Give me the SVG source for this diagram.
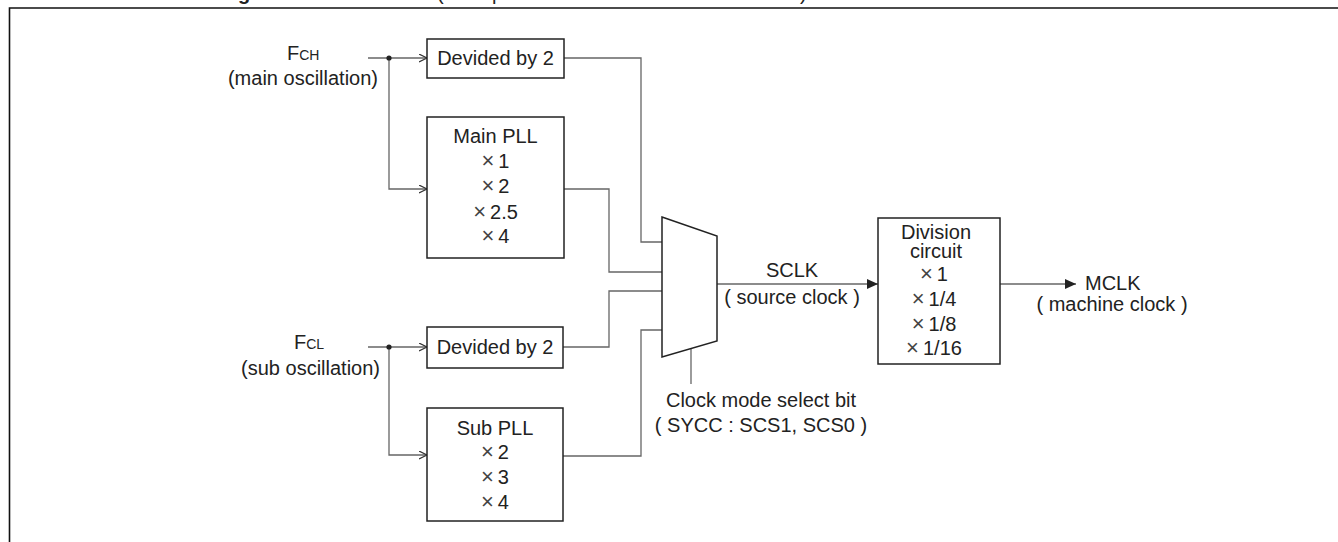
<svg xmlns="http://www.w3.org/2000/svg" width="1338" height="542" viewBox="0 0 1338 542">
<style>
text{font-family:"Liberation Sans",Arial,sans-serif;font-size:20px;fill:#222}
.m{text-anchor:middle}
.e{text-anchor:end}
.box{fill:#fff;stroke:#222;stroke-width:1.5}
.wire{fill:none;stroke:#666;stroke-width:1.3}
.sub{font-size:14px}
.x{font-size:22px;fill:#444}
</style>
<defs>
<marker id="open" markerUnits="userSpaceOnUse" markerWidth="10" markerHeight="10" refX="8" refY="4" orient="auto" viewBox="0 0 10 10">
<path d="M0,0 L8,4 L0,8" fill="none" stroke="#333" stroke-width="1.2"/>
</marker>
<marker id="fill" markerUnits="userSpaceOnUse" markerWidth="12" markerHeight="12" refX="11" refY="5" orient="auto" viewBox="0 0 12 12">
<path d="M0,0 L11,5 L0,10 z" fill="#222"/>
</marker>
</defs>
<rect width="1338" height="542" fill="#fff"/>
<g id="title-fragments">
<text x="238" y="0" font-weight="bold">g</text>
<text x="437" y="0">(</text>
<text x="492" y="0">p</text>
<text x="800" y="0">)</text>
</g>
<g id="frame">
<path d="M9.5,542 V8 H1338" fill="none" stroke="#111" stroke-width="1.6"/>
</g>
<g id="connectors">
<path class="wire" d="M368,58 H427" marker-end="url(#open)"/>
<path class="wire" d="M389,58 V189 H427" marker-end="url(#open)"/>
<circle cx="389" cy="58" r="2.6" fill="#222"/>
<path class="wire" d="M564,58 H641 V242 H662"/>
<path class="wire" d="M564,189 H609 V272 H662"/>
<path class="wire" d="M563,347 H609 V291 H662"/>
<path class="wire" d="M563,456 H641 V330 H662"/>
<path class="wire" d="M368,347 H427" marker-end="url(#open)"/>
<path class="wire" d="M389,347 V455 H427" marker-end="url(#open)"/>
<circle cx="389" cy="347" r="2.6" fill="#222"/>
<path class="wire" d="M717,284 H878" stroke="#333" marker-end="url(#fill)"/>
<path class="wire" d="M1000,284 H1076" stroke="#333" marker-end="url(#fill)"/>
<path class="wire" d="M691,349 V384"/>
</g>
<g id="fch">
<text x="287" y="60">F<tspan class="sub">CH</tspan></text>
<text class="e" x="378" y="85">(main oscillation)</text>
</g>
<g id="fcl">
<text x="294" y="349">F<tspan class="sub">CL</tspan></text>
<text class="e" x="380" y="375">(sub oscillation)</text>
</g>
<g id="div2-main">
<rect class="box" x="427" y="39" width="137" height="39"/>
<text class="m" x="495.5" y="65">Devided by 2</text>
</g>
<g id="main-pll">
<rect class="box" x="427" y="117" width="137" height="141"/>
<text class="m" x="495.5" y="143">Main PLL</text>
<text class="m" x="495.5" y="168"><tspan class="x">×</tspan><tspan dx="4">1</tspan></text>
<text class="m" x="495.5" y="193"><tspan class="x">×</tspan><tspan dx="4">2</tspan></text>
<text class="m" x="495.5" y="219"><tspan class="x">×</tspan><tspan dx="4">2.5</tspan></text>
<text class="m" x="495.5" y="243"><tspan class="x">×</tspan><tspan dx="4">4</tspan></text>
</g>
<g id="div2-sub">
<rect class="box" x="427" y="327" width="136" height="41"/>
<text class="m" x="495" y="354">Devided by 2</text>
</g>
<g id="sub-pll">
<rect class="box" x="427" y="408" width="136" height="113"/>
<text class="m" x="495" y="435">Sub PLL</text>
<text class="m" x="495" y="459"><tspan class="x">×</tspan><tspan dx="4">2</tspan></text>
<text class="m" x="495" y="484"><tspan class="x">×</tspan><tspan dx="4">3</tspan></text>
<text class="m" x="495" y="509"><tspan class="x">×</tspan><tspan dx="4">4</tspan></text>
</g>
<g id="mux">
<polygon points="662,217 717,236 717,341 662,357" fill="#fff" stroke="#222" stroke-width="1.5"/>
</g>
<g id="select-label">
<text class="m" x="761" y="407">Clock mode select bit</text>
<text class="m" x="761" y="432">( SYCC : SCS1, SCS0 )</text>
</g>
<g id="sclk-label">
<text class="m" x="792" y="277">SCLK</text>
<text class="m" x="792" y="304">( source clock )</text>
</g>
<g id="division">
<rect class="box" x="878" y="218" width="122" height="146"/>
<text class="m" x="936" y="239">Division</text>
<text class="m" x="936" y="258">circuit</text>
<text class="m" x="934" y="281"><tspan class="x">×</tspan><tspan dx="4">1</tspan></text>
<text class="m" x="934" y="306"><tspan class="x">×</tspan><tspan dx="4">1/4</tspan></text>
<text class="m" x="934" y="331"><tspan class="x">×</tspan><tspan dx="4">1/8</tspan></text>
<text class="m" x="934" y="355"><tspan class="x">×</tspan><tspan dx="4">1/16</tspan></text>
</g>
<g id="mclk-label">
<text x="1085" y="290">MCLK</text>
<text class="m" x="1112" y="311">( machine clock )</text>
</g>
</svg>
